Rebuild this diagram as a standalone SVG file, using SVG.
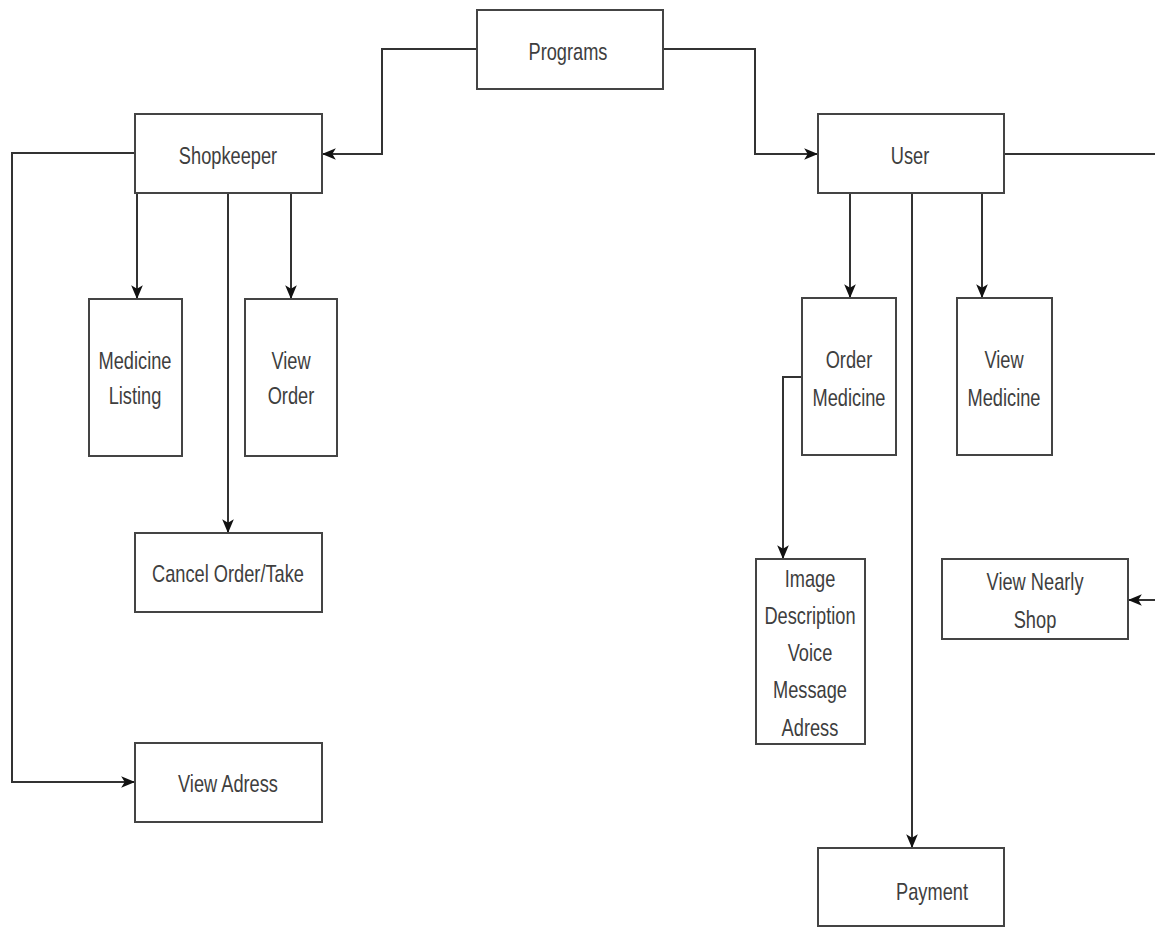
<svg xmlns="http://www.w3.org/2000/svg" width="1155" height="928" viewBox="0 0 1155 928">
  <style>
    .box { fill: #ffffff; stroke: #444444; stroke-width: 2; }
    .lbl { font-family: "Liberation Sans", Arial, sans-serif; font-size: 24px; fill: #3e3e3e; text-anchor: middle;
           transform-box: fill-box; transform-origin: center; transform: scaleX(0.76); }
    .wire { fill: none; stroke: #333333; stroke-width: 2; }
  </style>
  <defs>
    <marker id="arrow" markerUnits="userSpaceOnUse" markerWidth="14" markerHeight="14" viewBox="0 0 12 12" refX="11" refY="6" orient="auto">
      <path d="M0,1 L12,6 L0,11 L3,6 Z" fill="#111111"/>
    </marker>
  </defs>
  <rect width="1155" height="928" fill="#ffffff"/>

  <!-- connectors -->
  <g id="connectors" class="wire">
    <path d="M477,49 H382 V154 H323" marker-end="url(#arrow)"/>
    <path d="M663,49 H755 V154 H817" marker-end="url(#arrow)"/>
    <path d="M137,193 V298" marker-end="url(#arrow)"/>
    <path d="M291,193 V298" marker-end="url(#arrow)"/>
    <path d="M228,193 V532" marker-end="url(#arrow)"/>
    <path d="M135,153 H12 V782 H134" marker-end="url(#arrow)"/>
    <path d="M850,193 V297" marker-end="url(#arrow)"/>
    <path d="M982,193 V297" marker-end="url(#arrow)"/>
    <path d="M912,193 V847" marker-end="url(#arrow)"/>
    <path d="M802,377 H783 V558" marker-end="url(#arrow)"/>
    <path d="M1004,154 H1155"/>
    <path d="M1155,600 H1129" marker-end="url(#arrow)"/>
  </g>

  <g id="programs">
    <rect class="box" x="477" y="10" width="186" height="79"/>
    <text class="lbl" x="568" y="60">Programs</text>
  </g>

  <g id="shopkeeper">
    <rect class="box" x="135" y="114" width="187" height="79"/>
    <text class="lbl" x="228" y="164">Shopkeeper</text>
  </g>

  <g id="user">
    <rect class="box" x="818" y="114" width="186" height="79"/>
    <text class="lbl" x="910" y="164">User</text>
  </g>

  <g id="medicine-listing">
    <rect class="box" x="89" y="299" width="93" height="157"/>
    <text class="lbl" x="135" y="369">Medicine</text>
    <text class="lbl" x="135" y="404">Listing</text>
  </g>

  <g id="view-order">
    <rect class="box" x="245" y="299" width="92" height="157"/>
    <text class="lbl" x="291" y="369">View</text>
    <text class="lbl" x="291" y="404">Order</text>
  </g>

  <g id="cancel-order">
    <rect class="box" x="135" y="533" width="187" height="79"/>
    <text class="lbl" x="228" y="582">Cancel Order/Take</text>
  </g>

  <g id="view-adress">
    <rect class="box" x="135" y="743" width="187" height="79"/>
    <text class="lbl" x="228" y="792">View Adress</text>
  </g>

  <g id="order-medicine">
    <rect class="box" x="802" y="298" width="94" height="157"/>
    <text class="lbl" x="849" y="368">Order</text>
    <text class="lbl" x="849" y="406">Medicine</text>
  </g>

  <g id="view-medicine">
    <rect class="box" x="957" y="298" width="95" height="157"/>
    <text class="lbl" x="1004" y="368">View</text>
    <text class="lbl" x="1004" y="406">Medicine</text>
  </g>

  <g id="order-details">
    <rect class="box" x="756" y="559" width="109" height="185"/>
    <text class="lbl" x="810" y="587">Image</text>
    <text class="lbl" x="810" y="624">Description</text>
    <text class="lbl" x="810" y="661">Voice</text>
    <text class="lbl" x="810" y="698">Message</text>
    <text class="lbl" x="810" y="736">Adress</text>
  </g>

  <g id="view-nearly-shop">
    <rect class="box" x="942" y="559" width="186" height="80"/>
    <text class="lbl" x="1035" y="590">View Nearly</text>
    <text class="lbl" x="1035" y="628">Shop</text>
  </g>

  <g id="payment">
    <rect class="box" x="818" y="848" width="186" height="78"/>
    <text class="lbl" x="932" y="900">Payment</text>
  </g>
</svg>
